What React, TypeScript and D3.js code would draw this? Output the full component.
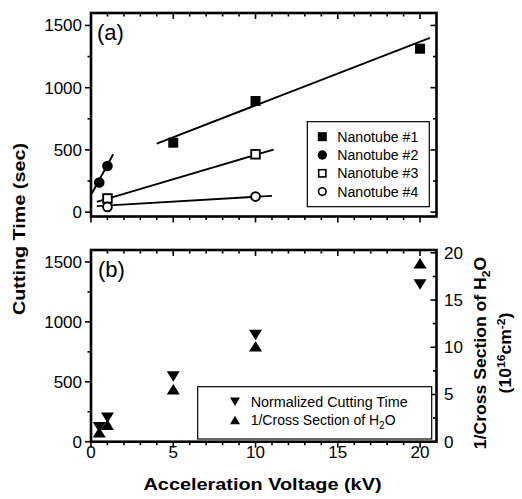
import React from "react";
import * as d3 from "d3";

// ---- data ----
const nt1X = [5, 10, 20];
const nt1Y = [558, 893, 1313];
const nt2X = [0.5, 1];
const nt2Y = [238, 371];
const nt3X = [1, 10];
const nt3Y = [110, 465];
const nt4X = [1, 10];
const nt4Y = [42, 125];
// fitted lines, endpoints in data units [x0, y0, x1, y1]
const fit1 = [4.0, 551, 20.6, 1401];
const fit2 = [0.05, 150, 1.35, 465];
const fit3 = [0.35, 83, 11.1, 503];
const fit4 = [0.35, 48, 11.0, 131];

const volts = [0.5, 1, 5, 10, 20];
const normTime = [120, 200, 545, 890, 1313];
const invCross = [1.0, 1.8, 5.55, 10.1, 18.9];

const xMajor = [0, 5, 10, 15, 20];
const leftMajor = [0, 500, 1000, 1500];
const leftMinor = [250, 750, 1250];
const rightMajor = [0, 5, 10, 15, 20];
const rightMinor = [2.5, 7.5, 12.5, 17.5];

const legendTop = ["Nanotube #1", "Nanotube #2", "Nanotube #3", "Nanotube #4"];

const FONT = "'Liberation Sans', Arial, Helvetica, sans-serif";

export default function App() {
  const L = 91, R = 436.5;
  const x = d3.scaleLinear().domain([0, 21]).range([L, R]);
  const topT = 13, topB = 216.5;
  const botT = 250, botB = 441.7;
  const yTop = d3.scaleLinear().domain([-35, 1600]).range([topB, topT]);
  const yBot = d3.scaleLinear().domain([0, 1600]).range([botB, botT]);
  const yR = d3.scaleLinear().domain([0, 20.3]).range([botB, botT]);
  const xMinor = x.ticks(21).filter((v) => !xMajor.includes(v) && v < 21);

  const lineGen = d3.line<[number, number]>();

  const fitPath = (f: number[]) =>
    lineGen([
      [x(f[0]), yTop(f[1])],
      [x(f[2]), yTop(f[3])],
    ]) as string;

  const tri = (cx: number, cy: number, w: number, h: number, up: boolean) =>
    up
      ? `M${cx - w / 2},${cy + h / 2}L${cx + w / 2},${cy + h / 2}L${cx},${cy - h / 2}Z`
      : `M${cx - w / 2},${cy - h / 2}L${cx + w / 2},${cy - h / 2}L${cx},${cy + h / 2}Z`;

  const frameTicks = (t: number, b: number, yS: d3.ScaleLinear<number, number>, showRight: boolean) => (
    <g stroke="#000" strokeWidth={1.6}>
      {xMajor.map((v) => (
        <line key={"bx" + v} x1={x(v)} x2={x(v)} y1={b} y2={b + 6} />
      ))}
      {xMinor.map((v) => (
        <line key={"bxm" + v} x1={x(v)} x2={x(v)} y1={b} y2={b + 3.5} />
      ))}
      {xMajor.map((v) => (
        <line key={"tx" + v} x1={x(v)} x2={x(v)} y1={t} y2={t + 6} />
      ))}
      {xMinor.map((v) => (
        <line key={"txm" + v} x1={x(v)} x2={x(v)} y1={t} y2={t + 3.5} />
      ))}
      {leftMajor.map((v) => (
        <line key={"ly" + v} x1={L - 6} x2={L} y1={yS(v)} y2={yS(v)} />
      ))}
      {leftMinor.map((v) => (
        <line key={"lym" + v} x1={L - 3.5} x2={L} y1={yS(v)} y2={yS(v)} />
      ))}
      {showRight &&
        leftMajor.map((v) => (
          <line key={"ry" + v} x1={R - 6} x2={R} y1={yS(v)} y2={yS(v)} />
        ))}
      {showRight &&
        leftMinor.map((v) => (
          <line key={"rym" + v} x1={R - 3.5} x2={R} y1={yS(v)} y2={yS(v)} />
        ))}
    </g>
  );

  return (
    <svg
      width={522}
      height={499}
      style={{ position: "absolute", left: 0, top: 0, background: "#fff" }}
      fontFamily={FONT}
    >
      <rect x={0} y={0} width={522} height={499} fill="#fff" />

      {/* ===== Panel (a) ===== */}
      <g>
        {frameTicks(topT, topB, yTop, true)}
        {leftMajor.map((v) => (
          <text key={"tl" + v} x={L - 9} y={yTop(v) + 6} fontSize={17} textAnchor="end">
            {v}
          </text>
        ))}
        <g stroke="#000" strokeWidth={1.9} fill="none">
          <path d={fitPath(fit1)} />
          <path d={fitPath(fit2)} />
          <path d={fitPath(fit3)} />
          <path d={fitPath(fit4)} />
        </g>
        {nt1X.map((v, i) => (
          <rect key={"n1" + i} x={x(v) - 5} y={yTop(nt1Y[i]) - 5} width={10} height={10} fill="#000" />
        ))}
        {nt2X.map((v, i) => (
          <circle key={"n2" + i} cx={x(v)} cy={yTop(nt2Y[i])} r={5.3} fill="#000" />
        ))}
        {nt3X.map((v, i) => (
          <rect
            key={"n3" + i}
            x={x(v) - 4.3}
            y={yTop(nt3Y[i]) - 4.3}
            width={8.6}
            height={8.6}
            fill="#fff"
            stroke="#000"
            strokeWidth={1.9}
          />
        ))}
        {nt4X.map((v, i) => (
          <circle
            key={"n4" + i}
            cx={x(v)}
            cy={yTop(nt4Y[i])}
            r={4.4}
            fill="#fff"
            stroke="#000"
            strokeWidth={1.9}
          />
        ))}
        <rect x={307.3} y={121.7} width={122} height={85} fill="#fff" stroke="#000" strokeWidth={1.2} />
        {legendTop.map((t, i) => {
          const cy = 136.7 + i * 18.3;
          const sx = 322.3;
          let sym;
          if (i === 0) sym = <rect x={sx - 4.5} y={cy - 4.5} width={9} height={9} fill="#000" />;
          else if (i === 1) sym = <circle cx={sx} cy={cy} r={4.7} fill="#000" />;
          else if (i === 2)
            sym = (
              <rect x={sx - 3.6} y={cy - 3.6} width={7.2} height={7.2} fill="#fff" stroke="#000" strokeWidth={1.6} />
            );
          else sym = <circle cx={sx} cy={cy} r={3.8} fill="#fff" stroke="#000" strokeWidth={1.6} />;
          return (
            <g key={"lg" + i}>
              {sym}
              <text x={337.3} y={cy + 5} fontSize={14} textLength={81} lengthAdjust="spacingAndGlyphs">
                {t}
              </text>
            </g>
          );
        })}
        <rect x={L} y={topT} width={R - L} height={topB - topT} fill="none" stroke="#000" strokeWidth={2.6} />
        <text x={97} y={40} fontSize={22}>
          (a)
        </text>
      </g>

      {/* ===== Panel (b) ===== */}
      <g>
        {frameTicks(botT, botB, yBot, false)}
        <g stroke="#000" strokeWidth={1.6}>
          {rightMajor.map((v) => (
            <line key={"rr" + v} x1={R - 6} x2={R} y1={yR(v)} y2={yR(v)} />
          ))}
          {rightMinor.map((v) => (
            <line key={"rrm" + v} x1={R - 3.5} x2={R} y1={yR(v)} y2={yR(v)} />
          ))}
        </g>
        {leftMajor.map((v) => (
          <text key={"bl" + v} x={L - 9} y={yBot(v) + 6} fontSize={17} textAnchor="end">
            {v}
          </text>
        ))}
        {rightMajor.map((v) => (
          <text key={"br" + v} x={444} y={yR(v) + 6} fontSize={17} textAnchor="start">
            {v}
          </text>
        ))}
        {xMajor.map((v) => (
          <text key={"bx" + v} x={x(v)} y={457.5} fontSize={17} textAnchor="middle">
            {v}
          </text>
        ))}
        {volts.map((v, i) => (
          <path key={"it" + i} d={tri(x(v), yR(invCross[i]), 13, 10.5, true)} fill="#000" />
        ))}
        {volts.map((v, i) => (
          <path key={"nt" + i} d={tri(x(v), yBot(normTime[i]), 13, 10.5, false)} fill="#000" />
        ))}
        <rect x={197.7} y={386.7} width={234} height={52.3} fill="#fff" stroke="#000" strokeWidth={1.2} />
        <path d={tri(235, 401.7, 10, 8.5, false)} fill="#000" />
        <path d={tri(235, 420, 10, 8.5, true)} fill="#000" />
        <text x={250.7} y={406.7} fontSize={14} textLength={157} lengthAdjust="spacingAndGlyphs">
          Normalized Cutting Time
        </text>
        <text x={250.7} y={425} fontSize={14}>
          1/Cross Section of H
          <tspan fontSize={10} dy={4}>
            2
          </tspan>
          <tspan dy={-4}>O</tspan>
        </text>
        <rect x={L} y={botT} width={R - L} height={botB - botT} fill="none" stroke="#000" strokeWidth={2.6} />
        <text x={98} y={277} fontSize={22}>
          (b)
        </text>
      </g>

      {/* axis titles */}
      <text
        transform={`translate(25,229) rotate(-90)`}
        fontSize={16}
        fontWeight="bold"
        textAnchor="middle"
        textLength={172}
        lengthAdjust="spacingAndGlyphs"
      >
        Cutting Time (sec)
      </text>
      <text
        x={262.5}
        y={490}
        fontSize={16}
        fontWeight="bold"
        textAnchor="middle"
        textLength={238}
        lengthAdjust="spacingAndGlyphs"
      >
        Acceleration Voltage (kV)
      </text>
      <text transform={`translate(486,353) rotate(-90) scale(1.1,1)`} fontSize={16} fontWeight="bold" textAnchor="middle">
        1/Cross Section of H
        <tspan fontSize={11} dy={4}>
          2
        </tspan>
        <tspan dy={-4}>O</tspan>
      </text>
      <text transform={`translate(511,353) rotate(-90) scale(1.1,1)`} fontSize={16} fontWeight="bold" textAnchor="middle">
        (10
        <tspan fontSize={11} dy={-6}>
          16
        </tspan>
        <tspan dy={6}>cm</tspan>
        <tspan fontSize={11} dy={-6}>
          -2
        </tspan>
        <tspan dy={6}>)</tspan>
      </text>
    </svg>
  );
}
